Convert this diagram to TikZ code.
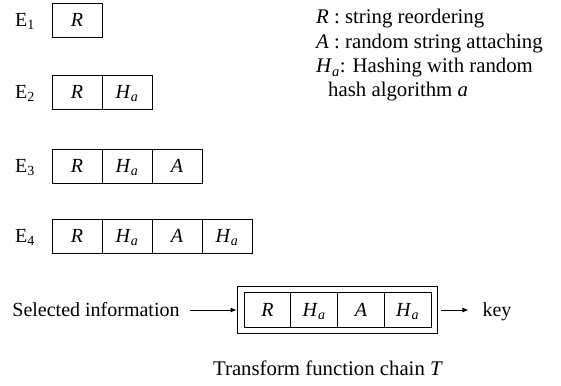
\documentclass[tikz,border=0pt]{standalone}
\usepackage{fontspec}
\setmainfont{Liberation Serif}
\usetikzlibrary{arrows.meta}
\newcommand{\Hsub}{\textit{H}\textsubscript{\textit{a}}}
\tikzset{
  cell/.style={draw, line width=0.8pt, minimum width=50pt, minimum height=34pt, inner sep=0pt,
    text height=13.2pt, text depth=0pt},
  chaincell/.style={draw, line width=0.8pt, minimum width=46.75pt, minimum height=35pt, inner sep=0pt,
    text height=13.2pt, text depth=0pt},
  lbl/.style={inner sep=0pt, anchor=base},
  legend/.style={inner sep=0pt, anchor=base west, font=\fontsize{20.8}{24}\selectfont},
  flow/.style={line width=0.8pt, -{Latex[length=6pt,width=5pt]}}
}
\begin{document}
\begin{tikzpicture}[x=1pt,y=1pt,font=\fontsize{20}{24}\selectfont]
\useasboundingbox (0,0) rectangle (561,385);

% rows E1 .. E4
\node[lbl] (e1) at (25,358.4) {E\textsubscript{1}};
\node[cell] (e1r) at (77,365) {\textit{R}};

\node[lbl] (e2) at (25,286.4) {E\textsubscript{2}};
\node[cell] (e2r) at (77,293) {\textit{R}};
\node[cell] (e2h) at (127,293) {\Hsub};

\node[lbl] (e3) at (25,212.4) {E\textsubscript{3}};
\node[cell] (e3r) at (77,219) {\textit{R}};
\node[cell] (e3h) at (127,219) {\Hsub};
\node[cell] (e3a) at (177,219) {\textit{A}};

\node[lbl] (e4) at (25,142.4) {E\textsubscript{4}};
\node[cell] (e4r) at (77,149) {\textit{R}};
\node[cell] (e4h) at (127,149) {\Hsub};
\node[cell] (e4a) at (177,149) {\textit{A}};
\node[cell] (e4g) at (227,149) {\Hsub};

% legend
\node[legend] (leg1) at (316,361) {\textit{R} : string reordering};
\node[legend] (leg2) at (316,336.5) {\textit{A} : random string attaching};
\node[legend] (leg3) at (316,312) {\Hsub: Hashing with random};
\node[legend] (leg4) at (328,288) {hash algorithm \textit{a}};

% transform chain
\node[draw, line width=0.8pt, minimum width=200pt, minimum height=47pt, inner sep=0pt] (chain) at (337,75) {};
\node[chaincell] (c1) at (267.4,75) {\textit{R}};
\node[chaincell] (c2) at (314.1,75) {\Hsub};
\node[chaincell] (c3) at (360.9,75) {\textit{A}};
\node[chaincell] (c4) at (407.6,75) {\Hsub};

\node[lbl] (sel) at (96,68.4) {Selected information};
\node[lbl] (key) at (497,68.4) {key};
\node[lbl, font=\fontsize{20.8}{24}\selectfont] (cap) at (328,10) {Transform function chain \textit{T}};

\draw[flow] (sel.east |- chain.west) ++(10,0) coordinate (selout) -- (chain.west);
\draw[flow] (chain.east) ++(4,0) coordinate (chout) -- ++(27,0) coordinate (keyin);
\end{tikzpicture}
\end{document}
